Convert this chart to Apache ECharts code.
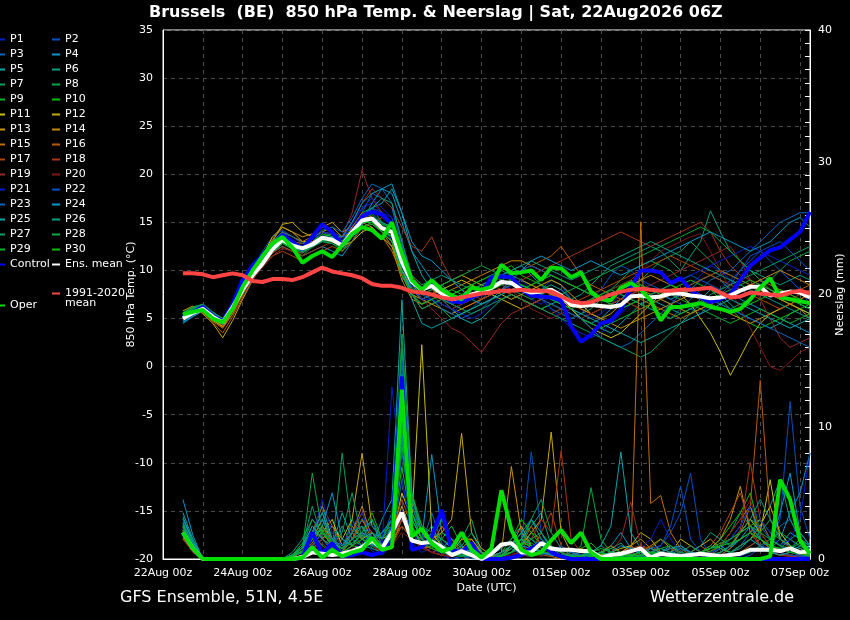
<!DOCTYPE html>
<html><head><meta charset="utf-8">
<script src="https://cdn.jsdelivr.net/npm/echarts@6/dist/echarts.min.js"></script>
<style>html,body{margin:0;padding:0;background:#000;}#c{width:850px;height:620px;}</style>
</head><body><div id="c"></div>
<script>
// ---- time axis (hours after 22Aug 00z), 6-hourly from +12h ----
const firstHour = 12, stepHours = 6;
const dateLabels = ['22Aug 00z','24Aug 00z','26Aug 00z','28Aug 00z','30Aug 00z','01Sep 00z','03Sep 00z','05Sep 00z','07Sep 00z'];

const memberNames = ['P1','P2','P3','P4','P5','P6','P7','P8','P9','P10','P11','P12','P13','P14','P15','P16','P17','P18','P19','P20','P21','P22','P23','P24','P25','P26','P27','P28','P29','P30'];
const memberColors = ['#0020d0','#0050c8','#0068c0','#0098c8','#00a8a8','#00a080','#00a060','#00a840','#00b428','#00c000',
  '#c8c000','#c8a800','#c89400','#c88400','#c07000','#b85c00','#b04800','#a83818','#982828','#801818',
  '#0020d0','#0050c8','#0068c0','#0098c8','#00a8a8','#00a080','#00a060','#00a840','#00b428','#00c000'];

// ---- 850 hPa temperature (°C) ----
const t01=[4.8,5.5,6.2,5.0,4.3,6.0,8.2,10.0, 11.5,13.0,13.8,13.0,12.0,13.5,14.5,14.0, 13.0,15.0,16.5,17.0,16.0,15.5,10.0,7.5, 6.5,7.0,6.0,5.5,6.5,7.0,7.5,8.5, 9.0,9.5,8.5,7.0,6.5,7.5,8.0,7.0, 6.0,5.0,5.5,6.5,7.5,8.5,9.0,8.0, 7.0,6.5,7.5,8.5,9.5,10.5,10.0,9.0, 8.0,7.5,8.5,9.5,10.0,9.0,8.0,7.5];
const t02=[5.2,5.8,6.0,5.5,4.8,6.5,8.5,10.2, 12.0,13.5,14.2,13.5,13.0,12.5,13.0,14.0, 13.5,14.5,15.5,16.0,15.0,13.0,9.5,8.0, 7.0,7.5,7.0,6.0,5.5,6.0,7.0,8.0, 8.5,9.0,8.0,7.5,8.0,9.0,8.5,7.0, 6.5,7.0,8.0,9.5,10.5,10.0,9.0,8.5, 8.0,7.0,6.5,6.0,5.5,6.5,7.5,8.5, 10.0,11.5,12.0,11.0,10.0,9.0,8.0,6.5];
const t03=[5.0,5.5,6.3,5.3,4.5,6.0,7.5,9.0, 10.5,12.0,13.0,12.5,12.0,13.0,14.0,13.5, 12.5,14.0,16.0,18.0,17.5,16.5,12.5,9.0, 8.0,8.5,7.5,6.5,7.0,7.5,8.0,9.0, 9.5,9.0,8.5,8.0,7.0,6.0,5.5,5.0, 5.5,6.5,7.5,8.0,7.5,7.0,6.5,6.0, 5.5,5.0,6.0,7.0,8.0,9.0,9.5,10.0, 11.0,12.0,13.0,14.0,15.0,15.5,16.0,16.0];
const t04=[4.5,5.2,5.8,5.0,4.4,5.8,7.5,9.5, 11.0,12.0,12.5,12.0,11.5,12.0,12.5,12.0, 11.5,13.0,15.0,17.0,18.5,18.0,15.0,12.0, 10.5,9.0,8.0,7.0,6.5,7.0,7.5,8.5, 9.5,10.0,10.5,9.5,8.5,7.5,7.0,6.0, 5.0,4.5,5.0,6.0,7.0,8.0,8.5,8.0, 7.5,7.0,7.5,8.0,9.0,9.5,9.0,8.0, 7.0,6.5,6.0,5.5,5.0,4.5,4.0,3.5];
const t05=[5.0,5.8,6.2,5.2,4.7,6.3,8.0,9.8, 11.5,13.0,14.0,13.0,12.0,12.5,13.0,13.5, 12.0,13.5,15.0,16.5,17.0,18.5,16.0,12.0, 9.5,8.0,7.0,6.0,5.0,4.5,5.0,6.0, 7.0,7.5,7.0,6.5,6.0,6.5,7.0,6.0, 5.0,4.5,4.0,3.5,4.5,5.5,6.5,7.0, 6.5,6.0,5.5,6.0,7.0,8.0,7.5,6.5, 5.5,5.0,4.5,4.0,4.5,5.5,6.0,5.5];
const t06=[5.3,6.0,6.4,5.5,4.9,6.5,8.3,9.9, 11.2,12.5,13.3,12.8,12.5,13.0,13.5,13.0, 12.5,13.8,15.0,15.5,14.5,14.0,10.5,8.0, 7.5,8.0,8.5,7.5,7.0,7.5,8.0,8.5, 9.0,8.5,8.0,7.5,8.0,8.5,8.0,7.0, 7.5,8.5,9.5,10.5,11.0,11.5,12.0,12.5, 12.0,11.0,10.0,11.5,13.0,16.2,14.0,12.0, 11.0,10.0,9.5,9.0,8.5,9.0,9.5,9.0];
const t07=[5.6,6.2,6.5,5.7,5.0,6.6,8.4,9.7, 11.0,12.2,13.0,12.5,12.0,12.8,13.2,13.0, 12.6,14.0,15.2,15.0,14.0,13.5,10.0,8.5, 8.0,8.5,8.0,7.5,8.0,8.5,9.0,9.5, 10.0,9.5,9.0,8.5,9.0,9.5,9.0,8.5, 8.0,7.5,7.0,6.5,7.0,8.0,9.0,10.0, 11.0,11.5,12.0,13.0,12.0,11.0,10.0,9.5, 9.0,8.5,8.0,7.5,7.0,6.5,6.0,5.5];
const t08=[5.4,6.0,6.3,5.4,4.6,6.2,8.0,9.4, 10.8,12.0,13.0,12.5,11.5,12.5,13.5,13.8, 13.0,14.5,16.0,16.5,15.0,14.0,10.5,8.0, 7.0,7.5,6.5,6.0,6.5,7.0,7.5,8.0, 8.5,8.0,7.5,7.0,7.5,8.0,7.0,6.0, 5.5,6.0,7.0,8.0,9.0,10.0,10.5,11.0, 10.5,10.0,9.0,8.0,7.5,7.0,6.5,6.0, 6.5,7.0,8.0,9.0,10.0,11.0,11.5,12.0];
const t09=[5.5,6.1,6.2,5.3,4.5,6.0,7.8,9.3, 10.5,11.8,12.8,12.2,11.8,12.5,13.0,12.8, 12.0,13.0,14.5,14.8,14.0,13.0,10.0,7.5, 6.5,7.0,6.0,5.0,5.5,6.0,6.5,7.0, 7.5,8.0,7.0,6.5,6.0,6.5,6.0,5.5, 5.0,4.5,4.0,4.5,5.0,5.5,6.0,6.5, 7.0,7.5,7.0,6.5,6.0,5.5,5.0,4.5, 5.0,5.5,6.0,5.5,5.0,4.5,5.0,5.5];
const t10=[5.1,5.6,6.0,5.2,4.4,6.1,8.1,9.6, 11.0,12.6,13.5,13.0,12.5,13.0,13.8,13.5, 13.0,14.2,15.5,15.8,14.8,14.5,11.0,8.5, 7.5,8.0,7.5,7.0,7.5,8.0,8.5,9.0, 10.0,10.5,9.5,9.0,8.5,8.0,7.5,7.0, 6.5,7.0,7.5,8.0,8.5,9.0,8.5,8.0, 7.5,8.0,8.5,9.0,8.5,8.0,7.0,6.0, 5.0,4.5,4.0,4.5,5.0,5.5,6.0,6.5];
const t11=[5.2,5.9,5.8,4.8,4.2,5.8,7.8,9.5, 11.5,13.5,14.5,14.0,13.0,13.0,13.5,13.0, 12.5,13.0,14.0,14.5,13.5,12.5,10.0,8.0, 7.0,7.5,8.0,8.5,9.0,8.5,8.0,7.5, 7.0,6.5,6.0,6.5,7.0,7.5,7.0,6.0, 5.0,4.0,3.5,3.0,3.5,4.5,5.5,6.5, 7.5,8.0,7.5,6.5,5.0,3.5,1.5,-0.9, 1.0,3.0,4.5,5.5,6.0,6.5,7.0,7.5];
const t12=[5.8,6.3,5.5,4.5,3.0,4.8,7.0,9.0, 11.0,13.0,14.8,15.0,14.0,13.5,14.0,14.5, 13.5,14.0,15.0,15.0,14.0,13.0,9.5,7.5, 7.0,7.5,8.5,9.0,9.5,9.0,8.5,8.0, 7.5,7.0,7.5,8.0,8.5,9.0,8.5,7.5, 6.5,5.5,5.0,5.5,6.5,7.5,8.0,7.5, 7.0,6.5,6.0,5.5,6.0,6.5,7.0,7.5, 8.0,8.5,8.0,7.5,7.0,6.5,6.0,5.5];
const t13=[5.0,5.4,5.8,4.9,4.1,5.5,7.6,9.6, 11.5,13.2,14.5,14.0,13.5,13.8,14.5,15.0, 14.0,14.5,15.5,15.5,14.5,13.5,10.5,8.5, 7.0,6.5,6.0,5.5,6.0,6.5,7.0,7.5, 8.0,8.5,9.0,8.5,8.0,7.5,7.0,6.5, 6.0,5.5,5.0,4.5,4.0,4.5,5.0,5.5, 6.0,6.5,7.0,7.5,7.0,6.5,6.0,5.5, 5.0,4.5,5.0,5.5,6.0,6.5,6.0,5.0];
const t14=[4.8,5.3,5.9,5.0,4.2,5.8,7.8,9.5, 11.0,12.5,13.5,13.0,12.5,13.0,13.5,13.0, 12.5,13.5,15.0,15.5,14.0,12.5,9.0,7.0, 6.5,7.0,7.5,8.0,8.5,9.0,9.5,10.0, 10.5,11.0,11.0,10.5,10.0,9.5,9.0,8.5, 8.0,7.5,7.0,7.5,8.0,8.5,9.0,9.5, 9.0,8.5,8.0,7.5,7.0,6.5,7.0,7.5, 8.0,8.5,9.0,9.5,10.0,9.5,9.0,8.5];
const t15=[5.3,5.7,5.6,4.7,4.0,5.5,7.5,9.4, 11.2,12.8,14.0,13.5,13.0,13.5,14.0,13.8, 13.0,14.0,15.0,14.5,13.5,12.0,9.5,7.5, 6.0,6.5,7.0,6.5,6.0,6.5,7.0,7.5, 8.0,7.5,7.0,6.5,7.0,7.5,7.0,6.5, 6.0,5.5,6.0,6.5,7.0,7.5,7.0,6.5, 6.0,5.5,5.0,5.5,6.0,6.5,7.0,7.5, 8.0,8.5,9.0,8.5,8.0,7.5,7.0,6.5];
const t16=[5.5,6.0,5.7,4.6,3.5,5.2,7.2,9.0, 10.8,12.2,13.2,13.0,12.8,13.0,13.2,13.0, 12.8,14.5,16.0,15.5,14.5,13.5,10.5,8.0, 7.0,7.5,8.0,7.5,7.0,7.5,8.0,8.5, 9.0,9.5,10.0,10.5,11.0,11.5,12.5,11.0, 9.5,8.5,8.0,7.5,7.0,6.5,6.0,6.5, 7.0,7.5,8.0,8.5,9.0,9.5,10.0,9.5, 9.0,8.5,8.0,7.5,7.0,7.5,8.0,8.5];
const t17=[4.9,5.5,5.8,5.1,4.5,6.0,7.8,9.2, 10.5,11.5,12.0,11.5,11.0,11.5,12.0,12.5, 12.0,13.0,14.5,15.0,15.5,15.0,12.0,9.5, 8.0,7.5,7.0,6.5,7.0,7.5,8.0,8.5, 8.0,7.5,7.0,6.5,6.0,5.5,6.0,6.5, 7.0,7.5,8.0,8.5,9.0,9.5,10.0,10.5, 11.0,11.5,11.0,10.5,10.0,9.5,9.0,8.5, 8.0,7.5,7.0,6.5,6.0,6.5,7.0,7.5];
const t18=[5.2,5.6,6.1,5.3,4.6,6.1,7.9,9.3, 10.6,11.8,12.5,12.0,11.5,12.0,12.5,13.0, 13.5,15.0,17.0,18.5,17.5,16.5,14.5,12.5, 12.0,13.5,11.0,9.0,8.0,7.5,7.0,7.5, 8.0,8.5,9.0,9.5,10.0,10.5,11.0,11.5, 12.0,12.5,13.0,13.5,14.0,13.5,13.0,12.5, 13.0,13.5,14.0,14.5,15.0,14.0,12.0,10.5, 9.5,9.0,8.5,8.0,7.5,7.0,7.5,8.0];
const t19=[5.0,5.5,6.0,5.0,4.3,5.9,7.7,9.1, 10.3,11.5,12.3,12.0,11.8,12.5,13.0,13.2, 13.5,16.0,20.4,17.5,16.0,15.0,12.0,9.0, 7.0,6.0,5.0,4.0,3.5,2.5,1.5,3.0, 4.5,5.5,6.0,6.5,7.0,6.5,6.0,5.5, 5.0,5.5,6.0,6.5,7.0,7.5,8.0,8.5, 9.0,9.5,10.0,10.5,11.0,11.5,12.0,12.5, 11.0,9.0,7.0,5.0,3.0,2.0,2.5,3.0];
const t20=[5.1,5.7,6.0,5.2,4.5,6.0,7.9,9.5, 10.9,12.3,13.1,12.6,12.1,12.6,13.2,13.0, 12.5,13.8,15.0,15.5,14.5,14.0,11.0,8.5, 7.5,8.0,7.0,6.0,6.5,7.0,7.5,8.0, 8.5,8.0,7.0,6.0,5.5,5.0,5.5,6.0, 6.5,7.0,7.5,8.0,8.5,9.0,10.0,11.0, 12.0,12.5,13.0,13.5,13.8,12.0,10.0,8.0, 6.0,4.0,2.0,0.0,-0.4,0.5,1.5,2.0];
const t21=[4.9,5.4,6.1,5.3,4.7,6.4,8.3,9.8, 11.3,12.8,13.6,13.0,12.5,13.2,14.0,13.8, 13.2,14.8,16.5,17.5,16.5,15.5,11.5,8.5, 7.0,7.0,6.5,6.0,5.5,5.0,5.5,6.5, 7.5,8.5,9.0,8.0,7.0,6.0,5.0,4.0, 3.5,3.0,3.5,4.5,5.5,6.5,7.0,7.5, 8.0,8.5,9.0,9.5,10.0,10.5,11.0,11.5, 12.0,12.5,12.0,11.5,11.0,10.5,10.0,9.5];
const t22=[5.1,5.7,6.2,5.4,4.8,6.3,8.1,9.6, 11.1,12.6,13.4,12.9,12.4,12.9,13.6,13.4, 12.9,14.3,15.8,16.5,16.0,15.0,10.5,8.0, 7.0,7.5,7.0,6.5,7.0,7.5,8.0,8.5, 9.0,9.5,10.0,10.5,10.0,9.5,9.0,8.5, 8.0,7.5,7.0,6.5,6.0,6.5,7.0,7.5, 8.0,8.5,9.0,9.5,9.0,8.5,8.0,9.0, 10.0,11.0,12.0,12.5,13.0,12.0,11.0,10.0];
const t23=[4.7,5.3,5.9,5.1,4.5,6.1,8.0,9.7, 11.4,13.0,14.0,13.5,12.8,13.3,14.2,14.5, 14.0,15.5,17.5,19.0,18.5,17.0,13.0,9.0, 7.5,7.0,6.0,5.5,5.0,5.5,6.0,7.0, 8.0,8.5,8.0,7.5,7.0,6.5,6.0,5.5, 5.0,4.0,3.0,2.5,2.0,2.5,3.5,4.5, 5.5,6.5,7.5,8.0,7.5,7.0,6.5,6.0, 5.5,5.0,4.5,4.0,3.5,3.0,2.5,2.0];
const t24=[4.6,5.2,5.8,5.0,4.4,6.0,7.8,9.5, 11.2,12.5,13.0,12.5,12.0,12.5,13.0,13.5, 13.5,15.0,17.0,18.0,18.5,19.0,16.0,13.0, 11.5,11.0,10.0,9.0,8.0,7.0,6.5,7.0, 8.0,9.0,10.0,11.0,11.5,11.0,10.5,10.0, 10.5,11.0,10.5,10.0,9.5,10.0,10.5,11.0, 11.5,12.0,12.5,13.0,13.5,14.0,13.5,13.0, 12.5,12.0,12.5,13.0,14.0,15.0,15.5,14.5];
const t25=[5.0,5.6,6.0,5.1,4.6,6.2,8.1,9.6, 11.0,12.3,13.1,12.6,12.0,12.6,13.3,13.1, 12.5,13.6,14.8,15.5,15.0,14.5,11.5,7.0, 4.5,4.0,4.5,5.0,5.5,6.0,6.5,7.0, 7.5,8.0,8.5,8.0,7.5,7.0,6.5,6.0, 5.5,5.0,4.5,4.0,3.5,3.0,2.5,3.0, 3.5,4.0,4.5,5.0,5.5,6.0,6.5,7.0, 6.5,6.0,5.5,5.0,4.5,4.0,4.5,5.0];
const t26=[5.3,5.9,6.3,5.5,4.8,6.4,8.2,9.8, 11.0,12.3,13.0,12.5,12.2,12.8,13.4,13.2, 12.8,14.0,15.5,16.5,17.5,17.0,13.0,9.5, 8.5,9.0,9.5,9.0,8.5,8.0,8.5,9.0, 9.5,10.0,10.5,11.0,10.5,10.0,9.5,9.0, 9.5,10.0,10.5,11.0,11.5,12.0,12.5,13.0, 12.5,12.0,11.5,11.0,10.5,10.0,9.5,9.0, 8.5,8.0,7.5,7.0,6.5,6.0,5.5,5.0];
const t27=[5.6,6.2,6.4,5.6,5.0,6.5,8.2,9.6, 10.9,12.1,12.9,12.4,11.9,12.4,13.0,12.8, 12.3,13.5,14.5,15.0,14.5,13.5,10.0,7.5, 6.0,6.5,7.0,6.5,6.0,5.5,6.0,6.5, 7.0,7.5,7.0,6.5,6.0,5.5,5.0,4.5, 4.0,3.5,3.0,2.5,2.0,1.5,1.0,1.5, 2.5,3.5,4.5,5.5,6.5,7.5,8.0,8.5, 9.0,9.5,10.0,10.5,11.0,11.5,12.0,12.5];
const t28=[5.4,6.0,6.2,5.4,4.7,6.2,8.0,9.5, 10.8,12.0,12.8,12.3,12.0,12.5,13.1,13.0, 12.5,13.7,15.0,15.3,14.2,13.5,10.5,8.2, 7.5,8.0,8.5,9.0,9.5,10.0,10.5,10.0, 9.5,9.0,8.5,8.0,7.5,7.0,7.5,8.0, 8.5,9.0,9.5,10.0,10.5,11.0,11.5,12.0, 12.5,13.0,13.5,14.0,14.5,14.0,13.0,12.0, 11.0,10.0,9.0,8.0,7.5,7.0,6.5,6.0];
const t29=[5.5,6.1,6.3,5.5,4.8,6.3,8.1,9.6, 11.0,12.2,12.9,12.4,12.0,12.6,13.2,13.0, 12.6,13.8,15.0,15.0,14.0,13.0,9.5,7.5, 6.5,7.0,7.5,8.0,7.5,7.0,7.5,8.0, 8.5,9.0,8.5,8.0,7.5,7.0,6.5,6.0, 6.5,7.0,7.5,8.0,7.5,7.0,6.5,6.0, 5.5,5.0,5.5,6.0,6.5,7.0,7.5,8.0, 8.5,9.0,8.5,8.0,7.5,7.0,6.5,6.0];
const t30=[5.2,5.8,6.1,5.3,4.6,6.2,8.0,9.5, 11.0,12.5,13.3,12.8,12.2,12.8,13.5,13.3, 12.8,14.0,15.3,15.5,14.5,14.0,11.0,8.5, 7.5,7.5,7.0,7.5,8.0,8.5,9.0,9.5, 9.0,8.5,8.0,8.5,9.0,9.5,9.0,8.5, 8.0,7.5,7.0,6.5,6.0,6.5,7.0,7.5, 8.0,8.5,8.0,7.5,7.0,6.5,6.0,5.5, 6.0,6.5,7.0,7.5,8.0,7.5,7.0,6.5];
const ctrlT=[5.1,5.7,6.2,5.3,4.7,6.5,9.0,10.5, 11.6,12.6,13.7,13.0,12.2,13.5,14.8,14.0, 12.6,14.0,15.6,16.1,15.8,14.8,11.0,8.7, 8.1,8.5,7.6,6.8,6.7,7.2,7.6,9.3, 9.4,9.3,8.0,7.4,7.3,7.2,6.9,4.2, 2.6,3.3,4.5,4.8,5.9,8.2,10.0,10.0, 9.8,8.7,9.2,8.0,7.2,6.7,7.0,7.5, 9.0,10.5,11.3,12.1,12.4,13.2,14.0,16.1];
const meanT=[5.0,5.6,6.0,5.2,4.6,6.2,8.0,9.5, 10.7,12.2,13.2,12.6,12.3,12.7,13.4,13.2, 12.6,14.0,15.2,15.4,14.4,14.0,10.9,8.8, 8.0,8.4,7.6,7.0,7.2,7.5,7.8,8.2, 8.8,8.7,8.0,7.7,7.8,8.0,7.4,6.4, 6.3,6.4,6.3,6.2,6.4,7.3,7.4,7.2, 7.3,7.6,7.6,7.4,7.3,7.1,7.2,7.4, 7.9,8.3,8.3,7.4,7.6,7.8,7.7,7.2];
const operT=[5.4,5.7,5.9,5.0,4.6,6.0,8.3,10.0, 11.5,12.8,13.5,12.4,10.8,11.5,12.0,11.4, 12.6,13.8,14.5,14.2,13.3,15.0,11.8,9.0, 8.0,9.0,8.0,7.4,7.0,8.2,8.0,8.3, 10.6,9.7,9.8,10.0,9.0,10.3,10.2,9.3, 9.8,7.8,7.0,6.9,8.2,8.7,8.0,6.9, 4.8,6.2,6.2,6.4,6.6,6.2,6.0,5.7, 6.0,7.0,8.2,9.2,7.2,7.0,6.8,6.6];
const climT=[9.7,9.7,9.6,9.3,9.5,9.7,9.5,8.9, 8.8,9.1,9.1,9.0,9.3,9.8,10.3,9.9, 9.7,9.5,9.2,8.6,8.4,8.4,8.2,7.8, 7.7,7.5,7.2,7.0,7.2,7.4,7.6,7.7, 7.9,7.9,8.0,7.9,7.9,7.8,7.3,6.8, 6.6,6.7,7.1,7.5,7.8,8.0,8.1,8.0, 7.9,7.9,8.0,8.0,8.1,8.2,7.7,7.2, 7.3,7.7,7.6,7.5,7.4,7.7,7.9,7.6];

// ---- precipitation (mm per 6 h) ----
const r01=[2.0,0.8,0,0,0,0,0,0, 0,0,0,0.2,0.5,1.0,0.3,0.8, 0.2,0.5,1.5,0.6,0.3,1.0,4.0,1.2, 0.5,0.8,0.3,0,0.2,0.5,0,0, 0.3,1.0,0.5,0.8,1.5,0.6,0.2,0, 0,0.3,0.5,0.2,0,0,0.4,0.8, 0.3,0,0,0.5,0.2,0,0,0, 0.2,0.5,1.0,0.6,0.3,1.5,0.8,0.4];
const r02=[1.8,0.6,0,0,0,0,0,0, 0,0,0,0,0.3,0.8,1.2,0.5, 0.2,0.4,0.8,1.2,0.5,2.0,11.5,2.5, 0.8,1.2,0.5,0.2,0,0.3,0.5,0.2, 0,0.5,1.2,8.1,2.0,0.5,0.3,0.2, 0,0,0.2,0.5,0.3,0.2,0,0.5, 1.0,2.0,3.5,6.5,1.5,0.3,0,0, 0,0.3,0.8,1.5,3.0,11.9,4.0,1.5];
const r03=[2.5,1.0,0,0,0,0,0,0, 0,0,0,0.3,0.8,2.5,1.5,0.6, 0.3,1.0,2.0,0.8,0.5,1.5,6.0,2.0, 1.0,3.5,1.2,0.5,0.3,0,0,0.2, 0.5,0.8,0.3,0.2,0.5,1.0,0.5,0.2, 0,0,0,0.3,0.5,0.8,0.3,0, 0,0.3,0.5,0.2,0,0,0.2,0.5, 1.0,2.0,1.5,0.8,2.5,3.0,1.5,0.8];
const r04=[4.5,1.8,0,0,0,0,0,0, 0,0,0,0.2,0.6,1.8,3.5,1.0, 0.5,2.0,1.5,3.0,1.0,2.5,14.0,3.0, 1.5,7.9,2.0,1.5,0.8,0.3,0,0.3, 0.8,1.5,2.5,1.0,0.5,0.3,0.2,0, 0,0.2,0.5,1.0,2.0,0.8,0.3,0.2, 0.5,1.0,0.3,0,0,0.3,0.8,1.5, 2.5,4.0,1.5,0.8,1.5,3.5,5.0,8.0];
const r05=[3.5,1.5,0,0,0,0,0,0, 0,0,0,0.3,1.0,2.0,4.0,1.5, 0.5,1.5,2.5,1.0,3.0,4.5,19.6,5.0, 2.0,1.5,1.0,0.5,0.2,0.5,0.3,0, 0.5,1.0,2.0,3.0,1.5,0.8,0.5,0.3, 0.2,0.5,1.0,2.5,8.1,2.0,0.8,0.3, 0.5,0.8,0.5,0.3,0.2,0,0.3,0.8, 1.5,2.0,3.0,1.5,1.0,2.0,1.5,1.0];
const r06=[2.2,1.2,0,0,0,0,0,0, 0,0,0,0.5,1.5,3.0,2.0,1.0, 2.5,1.0,0.8,2.0,1.5,3.0,9.0,3.5, 1.5,2.5,1.0,0.5,1.5,3.0,0.5,0, 0.3,0.5,1.5,2.5,3.5,1.0,0.5,0.2, 0,0.3,0.5,0.8,1.2,0.5,0.3,0, 0.2,0.5,1.0,0.5,0.2,0,0.5,1.0, 2.0,3.0,2.5,4.0,6.0,3.0,1.5,1.0];
const r07=[3.0,1.5,0,0,0,0,0,0, 0,0,0,0.2,1.0,4.0,1.5,0.8, 8.0,2.0,1.0,0.8,0.5,2.0,16.0,4.5, 2.5,1.5,3.0,1.0,0.5,0.3,0.2,0, 0.5,1.0,2.0,1.5,0.8,0.5,0.3,0.2, 0.2,0.5,0.3,0,0,0.2,0.5,0.3, 0,0.3,0.8,0.5,0.2,0.5,1.0,2.0, 3.5,2.5,1.5,1.0,0.8,1.5,2.0,1.0];
const r08=[2.8,1.0,0,0,0,0,0,0, 0,0,0,0.3,0.8,6.5,2.0,1.0, 0.5,3.0,1.5,1.0,0.8,2.5,12.0,3.0, 1.5,1.0,2.0,1.5,0.8,0.5,0.3,0.2, 0.3,0.5,1.0,2.0,1.5,0.8,0.5,0.3, 1.0,5.4,1.5,0.5,0.2,0,0.3,0.5, 0.8,0.5,0.3,0,0.2,0.5,0.8,0.5, 0.3,0.5,1.0,1.5,2.0,1.0,0.5,0.3];
const r09=[2.5,1.2,0,0,0,0,0,0, 0,0,0,0.2,0.5,1.5,3.0,1.2, 0.8,1.5,2.0,3.5,1.5,3.0,13.0,2.5, 1.0,0.8,1.5,2.5,1.0,0.5,0.2,0, 0.2,0.8,1.5,1.0,0.5,0.3,0.2,0.5, 0.8,1.2,0.5,0.2,0,0.3,0.5,0.8, 1.5,1.0,0.5,0.3,0.2,0.5,1.0,1.5, 2.0,2.5,3.0,2.0,1.5,1.0,0.5,0.3];
const r10=[2.0,0.9,0,0,0,0,0,0, 0,0,0,0.3,1.2,2.0,1.0,0.5, 1.5,1.0,0.8,1.2,2.0,2.5,10.0,3.5, 2.0,1.5,1.0,0.8,0.5,1.2,0.5,0.2, 0.5,1.5,3.0,2.0,1.0,0.5,0.3,0.2, 0,0.2,0.5,0.3,0.2,0.5,1.0,0.5, 0.3,0.2,0,0.3,0.5,0.8,1.5,2.5, 3.5,5.0,2.0,1.0,0.5,0.8,1.2,0.6];
const r11=[1.5,0.6,0,0,0,0,0,0, 0,0,0,0.2,0.5,1.0,2.0,3.0, 1.0,2.5,1.5,2.0,1.0,1.5,5.0,3.0, 16.2,2.0,1.0,0.5,1.5,1.5,0.5,0.2, 0.5,1.0,1.5,0.8,0.5,0.3,0.2,0, 0,0.2,0.3,0.5,0.8,1.0,0.5,0.3, 0.2,0.5,1.5,1.0,0.5,0.3,0.5,1.0, 2.0,3.0,2.0,6.0,1.5,1.0,0.5,0.3];
const r12=[1.8,0.7,0,0,0,0,0,0, 0,0,0,0,0.3,0.8,1.5,2.5, 1.5,3.0,8.0,2.5,1.5,2.0,4.0,2.0, 1.0,1.5,2.0,3.0,9.5,2.0,0.8,0.3, 0.2,0.5,1.0,2.0,3.0,9.6,2.0,0.5, 0.2,0,0,0.3,0.5,1.0,2.0,1.5, 0.5,0.3,0.2,0.5,1.0,1.5,0.8,0.5, 1.0,1.5,2.5,4.0,2.0,1.0,0.5,0.2];
const r13=[2.2,0.8,0,0,0,0,0,0, 0,0,0,0.2,0.5,1.2,2.5,1.5, 0.8,1.5,3.0,1.5,0.8,1.0,3.0,4.0, 2.0,1.0,0.5,0.3,0.8,1.5,0.5,0.2, 0.5,7.0,2.0,1.0,0.5,0.3,0.2,0.5, 0.8,0.5,0.3,0.2,0.5,1.0,1.5,0.8, 0.5,0.3,0.2,0.3,0.5,0.8,1.5,3.0, 5.5,2.0,1.0,0.5,0.3,0.5,0.8,0.5];
const r14=[1.6,0.5,0,0,0,0,0,0, 0,0,0,0,0.3,1.5,3.0,1.5, 0.8,2.0,4.0,1.5,1.0,2.0,3.5,1.5, 0.8,1.0,2.5,1.5,0.5,0.2,0,0, 0.3,1.0,2.5,1.0,0.5,0.3,0.2,0, 0,0.2,0.5,1.0,0.5,0.3,0.5,1.0, 1.5,0.8,0.5,0.3,0.2,0.5,1.0,2.0, 3.0,4.0,2.0,1.0,0.5,0.3,0.2,0.2];
const r15=[2.0,0.8,0,0,0,0,0,0, 0,0,0,0.2,0.5,1.0,2.0,1.0, 0.5,1.0,2.0,1.0,0.5,1.5,2.5,1.5, 1.0,0.5,0.3,0.2,0.5,1.0,0.5,0.2, 0.3,0.5,0.8,0.5,0.3,0.2,0,0, 0,0,0,0,0,0,25.5,4.2, 4.8,2.0,0.8,0.3,0.2,0,0,0.3, 0.5,1.0,1.5,0.8,0.5,0.3,0.2,0];
const r16=[2.4,1.0,0,0,0,0,0,0, 0,0,0,0.3,0.8,2.0,4.0,2.5, 1.0,2.0,3.5,1.5,0.8,1.5,3.0,2.0, 1.5,1.0,0.8,0.5,0.3,0.5,0.3,0, 0.2,0.5,1.0,2.5,1.0,0.5,0.3,0.2, 0,0.3,0.5,0.3,0.2,0.5,1.0,0.8, 0.5,0.3,0.2,0.5,1.0,0.5,0.3,0.8, 2.0,4.0,13.5,3.0,1.5,0.8,0.5,0.3];
const r17=[1.9,0.7,0,0,0,0,0,0, 0,0,0,0.2,0.6,1.5,2.5,1.0, 0.5,1.5,3.0,2.0,1.0,2.0,4.5,2.5, 1.0,0.8,0.5,0.3,0.5,1.0,0.3,0, 0.2,0.5,1.0,0.5,2.0,3.5,1.0,0.5, 0.2,0,0.2,0.5,0.3,0.2,0.5,1.0, 0.5,0.3,0.2,0.3,0.5,1.0,2.0,3.5, 5.0,2.5,1.0,0.5,0.3,0.2,0.2,0.1];
const r18=[2.1,0.9,0,0,0,0,0,0, 0,0,0,0,0.3,0.8,1.5,2.0, 1.0,2.0,1.5,1.0,0.5,1.0,2.5,1.5, 1.0,0.5,0.8,1.5,0.5,0.3,0.2,0, 0.3,0.5,0.8,1.5,3.0,2.0,8.2,1.5, 0.5,0.3,0.2,0.3,0.5,0.8,1.0,0.5, 0.3,0.2,0.5,1.0,0.5,0.3,0.5,1.0, 2.2,7.3,3.0,1.5,1.0,0.5,0.3,0.2];
const r19=[1.7,0.6,0,0,0,0,0,0, 0,0,0,0.2,0.5,1.0,1.5,0.8, 0.5,1.0,2.0,1.5,0.8,1.5,3.0,2.0, 1.0,0.5,0.3,0.2,0.5,0.3,0,0, 0.2,0.5,0.3,0.2,0.5,1.0,0.5,0.3, 0.2,0,0,0.5,1.5,4.3,1.0,0.3, 0.2,0,0.3,0.5,0.3,0.2,0.5,1.0, 1.5,2.0,1.0,0.5,0.3,0.2,0.1,0];
const r20=[1.5,0.5,0,0,0,0,0,0, 0,0,0,0,0.3,0.8,1.2,0.5, 0.3,0.8,1.5,1.0,0.5,1.0,2.0,1.5, 0.8,0.5,0.3,0.2,0.3,0.5,0.3,0, 0.2,0.3,0.5,0.3,0.2,0.5,0.8,0.3, 0.2,0,0.2,0.3,0.2,0.5,0.3,0.2, 0.5,0.8,0.5,0.3,0.2,0.5,1.0,2.0, 3.0,4.5,2.0,1.0,0.5,0.3,0.2,0.1];
const r21=[2.3,1.0,0,0,0,0,0,0, 0,0,0,0.3,0.8,1.5,4.5,2.0, 1.0,2.5,3.5,1.5,1.0,13.0,6.0,2.0, 1.0,1.5,0.8,0.5,0.3,0.2,0,0, 0.2,0.5,1.0,0.8,0.5,0.3,0.2,0, 0,0.3,0.5,0.3,0.2,0.5,0.8,1.5, 3.0,1.5,0.5,0.3,0.2,0.5,0.8,1.5, 2.5,4.0,3.0,2.0,1.0,1.5,3.0,8.0];
const r22=[2.0,0.8,0,0,0,0,0,0, 0,0,0,0.2,0.5,1.0,2.0,1.5, 0.8,1.5,2.0,1.0,0.8,1.5,8.0,3.0, 1.5,1.0,0.5,0.3,0.2,0.5,0.3,0, 0.3,0.5,0.8,0.5,0.3,0.5,1.0,0.5, 0.3,0.2,0.5,0.3,0.2,0.3,0.5,0.8, 1.0,2.5,5.5,1.5,0.5,0.3,0.2,0.5, 1.0,1.5,1.0,0.8,0.5,0.3,0.2,0.2];
const r23=[3.0,1.2,0,0,0,0,0,0, 0,0,0,0.3,0.8,2.0,3.0,1.5, 0.8,2.0,3.0,2.5,1.5,3.5,15.0,4.0, 2.0,1.5,1.0,0.5,0.8,0.5,0.2,0, 0.5,1.0,1.5,1.0,0.5,0.3,0.2,0.5, 0.3,0,0,0.3,0.5,0.3,0.2,0, 0.2,0.5,0.8,0.5,0.3,0.2,0.5,1.0, 1.5,2.0,2.5,1.5,1.0,0.5,0.3,0.2];
const r24=[2.6,1.1,0,0,0,0,0,0, 0,0,0,0.2,0.6,1.5,2.5,5.0, 1.5,1.0,2.0,1.5,2.0,3.0,12.5,3.0, 1.5,1.0,0.8,1.5,1.0,0.5,0.3,0, 0.2,0.5,1.0,0.8,0.5,0.3,0.2,0.3, 0.5,0.3,0.2,0.5,1.0,0.8,0.5,0.3, 0.5,0.8,1.0,0.5,0.3,0.2,0.5,1.0, 1.5,2.5,1.5,1.0,3.5,6.5,2.0,1.0];
const r25=[3.2,1.3,0,0,0,0,0,0, 0,0,0,0.3,1.0,2.5,1.5,1.0, 3.5,1.5,1.0,2.0,1.0,2.5,11.0,2.5, 1.0,2.0,1.5,0.8,0.5,0.3,0.2,0, 0.3,0.8,1.5,3.0,2.0,0.8,0.3,0.2, 0,0.2,0.5,0.3,0.2,0.3,0.5,0.8, 0.5,0.3,0.2,0.3,0.5,0.8,1.0,0.5, 0.8,1.5,1.0,0.5,0.3,0.5,1.0,0.8];
const r26=[2.4,1.0,0,0,0,0,0,0, 0,0,0,0.2,0.8,2.0,3.5,1.5, 1.0,2.0,2.5,1.5,1.0,2.0,9.5,3.5, 1.5,1.0,0.8,0.5,1.0,2.0,0.5,0.2, 0.5,1.0,2.0,1.5,1.0,0.5,0.3,0.2, 0.3,0.5,1.0,0.5,0.3,0.2,0.3,0.5, 0.8,0.5,0.3,0.5,1.0,2.0,1.5,1.0, 2.0,3.0,4.5,3.0,1.5,1.0,0.8,0.5];
const r27=[2.7,1.1,0,0,0,0,0,0, 0,0,0,0.3,1.0,3.0,2.0,1.0, 2.0,5.0,1.5,1.0,0.8,1.5,10.5,4.5, 2.0,1.5,1.0,0.5,0.3,0.2,0,0, 0.3,0.5,1.0,3.0,4.5,2.0,0.8,0.3, 0.2,0.3,0.5,0.3,0.2,0.5,0.8,0.5, 0.3,0.2,0.5,1.0,0.5,0.3,0.5,1.0, 1.5,2.0,1.5,1.0,0.5,0.8,1.5,1.0];
const r28=[2.5,1.0,0,0,0,0,0,0, 0,0,0,0.2,0.5,1.5,2.5,1.2, 0.8,1.5,2.0,3.0,1.5,2.5,17.0,5.0, 2.5,2.0,1.5,1.0,0.5,0.3,0.2,0, 0.2,0.5,1.0,1.5,2.0,1.0,0.5,0.2, 0,0.2,0.5,0.8,0.5,0.3,0.2,0.5, 0.8,1.0,0.5,0.3,0.5,1.0,0.8,0.5, 1.0,1.5,2.0,3.0,2.0,1.5,1.0,0.5];
const r29=[2.2,0.9,0,0,0,0,0,0, 0,0,0,0.3,0.8,1.8,2.2,1.0, 0.8,1.2,1.8,1.5,1.0,2.0,8.5,3.0, 1.5,1.0,0.8,0.5,0.3,0.5,0.3,0, 0.3,0.8,1.5,1.2,0.8,0.5,0.3,0.2, 0.2,0.5,0.8,0.5,0.3,0.2,0.3,0.5, 0.5,0.3,0.2,0.3,0.5,0.8,1.2,1.5, 2.0,2.5,2.0,1.5,1.0,0.8,0.5,0.3];
const r30=[2.0,0.8,0,0,0,0,0,0, 0,0,0,0.2,0.6,1.5,2.0,1.0, 0.5,1.0,1.5,1.2,0.8,1.5,7.0,2.5, 1.2,0.8,0.5,0.3,0.2,0.3,0.2,0, 0.2,0.5,1.2,1.0,0.6,0.4,0.2,0.1, 0,0.2,0.4,0.3,0.2,0.3,0.5,0.4, 0.3,0.2,0.1,0.2,0.4,0.6,1.0,1.2, 1.5,2.0,1.5,1.0,0.8,0.5,0.4,0.2];
const ctrlR=[2.0,0.8,0,0,0,0,0,0, 0,0,0,0,0.1,2.0,0.4,1.2, 0.2,0.3,0.5,0.3,0.5,1.7,13.8,0.7, 0.9,1.7,3.7,0.7,0.5,1.2,0,0, 0,0.1,0.3,0.8,1.2,0.5,0.2,0, 0,0,0,0,0,0,0,0, 0,0,0,0,0,0,0,0, 0,0,0,0,0,0,0,0];
const meanR=[2.0,0.8,0,0,0,0,0,0, 0,0,0,0,0.15,0.5,0.4,0.3, 0.4,0.6,0.9,1.4,0.8,2.0,3.5,1.4, 1.2,1.3,0.9,0.3,0.6,0.3,0,0.4, 1.1,1.2,0.5,0.5,1.2,0.8,0.7,0.7, 0.6,0.6,0.1,0.3,0.4,0.6,0.8,0.1, 0.4,0.3,0.2,0.3,0.4,0.3,0.2,0.3, 0.4,0.7,0.7,0.7,0.6,0.8,0.5,0.6];
const operR=[2.0,0.8,0,0,0,0,0,0, 0,0,0,0,0.1,0.9,0.1,0.7, 0.2,0.5,0.7,1.6,0.7,0.9,12.8,1.7, 2.3,1.2,0.6,0.8,2.0,0.7,0.1,0.8, 5.2,2.2,0.7,0.3,0.5,1.4,2.2,1.2, 2.0,0.5,0,0,0,0,0,0, 0,0,0,0,0,0,0,0, 0,0,0,0.2,6.0,4.5,1.4,0.4];

const memberTemps=[t01,t02,t03,t04,t05,t06,t07,t08,t09,t10,t11,t12,t13,t14,t15,t16,t17,t18,t19,t20,t21,t22,t23,t24,t25,t26,t27,t28,t29,t30];
const memberRain=[r01,r02,r03,r04,r05,r06,r07,r08,r09,r10,r11,r12,r13,r14,r15,r16,r17,r18,r19,r20,r21,r22,r23,r24,r25,r26,r27,r28,r29,r30];

[...memberTemps,...memberRain,ctrlT,meanT,operT,climT,ctrlR,meanR,operR].forEach((a,k)=>{ if(a.length!==64) throw new Error('bad length at '+k+': '+a.length); });

function xy(arr){ return arr.map((v,k)=>[firstHour+stepHours*k, v]); }
const FONT='DejaVu Sans';

const series=[];
memberTemps.forEach((arr,k)=>{
  series.push({name:memberNames[k],type:'line',data:xy(arr),yAxisIndex:0,showSymbol:false,silent:true,z:2,
    lineStyle:{width:1,color:memberColors[k]},itemStyle:{color:memberColors[k]}});
});
memberRain.forEach((arr,k)=>{
  series.push({name:memberNames[k],type:'line',data:xy(arr),yAxisIndex:1,showSymbol:false,silent:true,z:2,
    lineStyle:{width:1,color:memberColors[k]},itemStyle:{color:memberColors[k]}});
});
function main(name,arr,axis,color,z){
  return {name,type:'line',data:xy(arr),yAxisIndex:axis,showSymbol:false,silent:true,z,
    lineStyle:{width:4,color},itemStyle:{color}};
}
series.push(main('Control',ctrlT,0,'#0000ff',3), main('Control',ctrlR,1,'#0000ff',3));
series.push(main('Ens. mean',meanT,0,'#ffffff',4), main('Ens. mean',meanR,1,'#ffffff',4));
series.push(main('Oper',operT,0,'#00dd00',5), main('Oper',operR,1,'#00dd00',5));
series.push(main('1991-2020 mean',climT,0,'#ff4444',6));

const legendBase={orient:'vertical',icon:'rect',itemWidth:8,itemHeight:2,itemGap:0,selectedMode:false,padding:0,
  textStyle:{color:'#fff',fontSize:11,fontFamily:FONT,lineHeight:15}};
const col1=memberNames.filter((n,k)=>k%2===0).concat(['Control']);
const col2=memberNames.filter((n,k)=>k%2===1).concat(['Ens. mean']);

const chart=echarts.init(document.getElementById('c'),null,{renderer:'canvas'});
chart.setOption({
  backgroundColor:'#000',
  animation:false,
  title:[
    {text:'Brussels  (BE)  850 hPa Temp. & Neerslag | Sat, 22Aug2026 06Z',left:144,top:0,
     textStyle:{color:'#fff',fontSize:16,fontWeight:'bold',fontFamily:FONT}},
    {text:'GFS Ensemble, 51N, 4.5E',left:115,top:585,textStyle:{color:'#fff',fontSize:16,fontWeight:'normal',fontFamily:FONT}},
    {text:'Wetterzentrale.de',left:645,top:585,textStyle:{color:'#fff',fontSize:16,fontWeight:'normal',fontFamily:FONT}}
  ],
  legend:[
    Object.assign({},legendBase,{left:-3,top:32,data:col1}),
    Object.assign({},legendBase,{left:52,top:32,data:col2}),
    Object.assign({},legendBase,{left:-3,top:298,data:['Oper']}),
    Object.assign({},legendBase,{left:52,top:286,data:['1991-2020 mean'],formatter:()=>'1991-2020'})
  ],
  graphic:[{type:'text',left:65,top:298,style:{text:'mean',fill:'#fff',font:'11px "DejaVu Sans"'}}],
  grid:{left:163,right:40,top:30,bottom:61,outerBoundsMode:'none',containLabel:false,show:true,borderColor:'#fff',borderWidth:1,backgroundColor:'transparent'},
  xAxis:{type:'value',min:0,max:390,interval:24,
    name:'Date (UTC)',nameLocation:'middle',nameGap:24,nameMoveOverlap:false,nameTextStyle:{color:'#fff',fontSize:11,fontFamily:FONT},
    axisLine:{onZero:false,lineStyle:{color:'#fff'}},axisTick:{show:false},
    axisLabel:{color:'#fff',fontSize:11,fontFamily:FONT,margin:9,formatter:v=>(v%48===0&&v<=384)?dateLabels[v/48]:''},
    splitLine:{show:true,lineStyle:{color:'#4a4a4a',type:[4,4]}}},
  yAxis:[
    {type:'value',min:-20,max:35,interval:5,position:'left',
     name:'850 hPa Temp. (°C)',nameLocation:'middle',nameGap:26,nameMoveOverlap:false,nameRotate:90,nameTextStyle:{color:'#fff',fontSize:11,fontFamily:FONT},
     axisLine:{show:true,onZero:false,lineStyle:{color:'#fff'}},axisTick:{show:false},
     axisLabel:{color:'#fff',fontSize:11,fontFamily:FONT,margin:10},
     splitLine:{show:true,lineStyle:{color:'#4a4a4a',type:[4,4]}}},
    {type:'value',min:0,max:40,interval:10,position:'right',
     name:'Neerslag (mm)',nameLocation:'middle',nameGap:25,nameMoveOverlap:false,nameRotate:90,nameTextStyle:{color:'#fff',fontSize:11,fontFamily:FONT},
     axisLine:{show:true,onZero:false,lineStyle:{color:'#fff'}},
     axisTick:{show:true,inside:true,length:5,lineStyle:{color:'#fff'}},
     minorTick:{show:true,splitNumber:10,length:5,lineStyle:{color:'#fff'}},
     axisLabel:{color:'#fff',fontSize:11,fontFamily:FONT,margin:8},
     splitLine:{show:false}}
  ],
  series
});
</script></body></html>
